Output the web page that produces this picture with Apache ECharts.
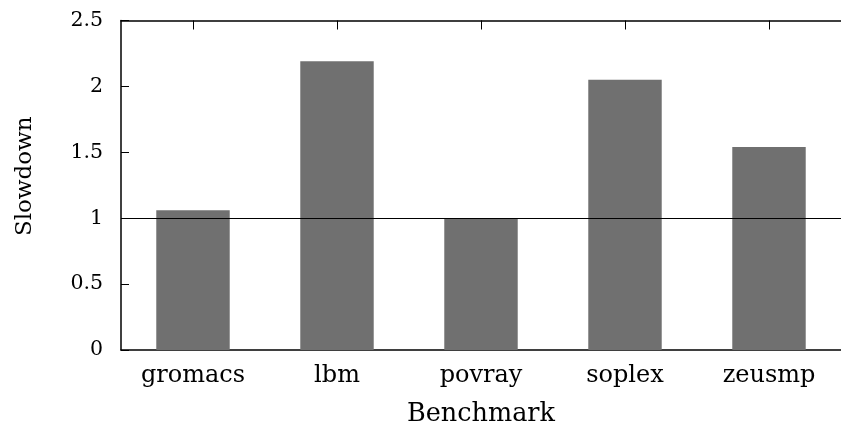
<!DOCTYPE html>
<html>
<head>
<meta charset="utf-8">
<script src="https://cdn.jsdelivr.net/npm/echarts@6/dist/echarts.min.js"></script>
<style>
  html, body { margin: 0; padding: 0; background: #fff; }
  #chart { width: 841px; height: 432px; }
</style>
</head>
<body>
<div id="chart"></div>
<script>
// Benchmarks and their measured slowdown
const benchmarks = ['gromacs', 'lbm', 'povray', 'soplex', 'zeusmp'];
const slowdown = [1.06, 2.19, 1.00, 2.05, 1.54];
const baseline = 1;

const FONT = 'DejaVu Serif';
const chart = echarts.init(document.getElementById('chart'), null, { renderer: 'canvas' });

const tickStyle = { show: true, inside: true, length: 9, alignWithLabel: true, lineStyle: { color: '#000', width: 1 } };

chart.setOption({
  animation: false,
  backgroundColor: '#fff',
  // the plot frame runs past the right edge of the canvas
  grid: { left: 121, width: 730, top: 20.5, height: 331, containLabel: false },
  xAxis: [
    {
      type: 'category',
      data: benchmarks,
      position: 'bottom',
      name: 'Benchmark',
      nameLocation: 'middle',
      nameGap: 51,
      nameTextStyle: { fontFamily: FONT, fontSize: 25.5, color: '#000' },
      axisLine: { show: true, lineStyle: { color: '#000', width: 1.5 } },
      axisTick: tickStyle,
      axisLabel: { fontFamily: FONT, fontSize: 24, color: '#000', margin: 14 },
      splitLine: { show: false }
    },
    {
      type: 'category',
      data: benchmarks,
      position: 'top',
      axisLine: { show: true, lineStyle: { color: '#000', width: 1.5 } },
      axisTick: tickStyle,
      axisLabel: { show: false },
      splitLine: { show: false }
    }
  ],
  yAxis: {
    type: 'value',
    min: 0,
    max: 2.5,
    interval: 0.5,
    name: 'Slowdown',
    nameLocation: 'middle',
    nameGap: 84,
    nameTextStyle: { fontFamily: FONT, fontSize: 23, color: '#000', padding: [0, 0, 0, 18] },
    axisLine: { show: true, lineStyle: { color: '#000', width: 1.5 } },
    axisTick: { show: true, inside: true, length: 8, lineStyle: { color: '#000', width: 1 } },
    axisLabel: { fontFamily: FONT, fontSize: 20.5, color: '#000', margin: 18 },
    splitLine: { show: false }
  },
  series: [{
    type: 'bar',
    data: slowdown,
    barWidth: '51%',
    itemStyle: { color: '#707070' },
    markLine: {
      silent: true,
      symbol: 'none',
      label: { show: false },
      lineStyle: { color: '#000', width: 1, type: 'solid' },
      data: [{ yAxis: baseline }]
    }
  }]
});
</script>
</body>
</html>
